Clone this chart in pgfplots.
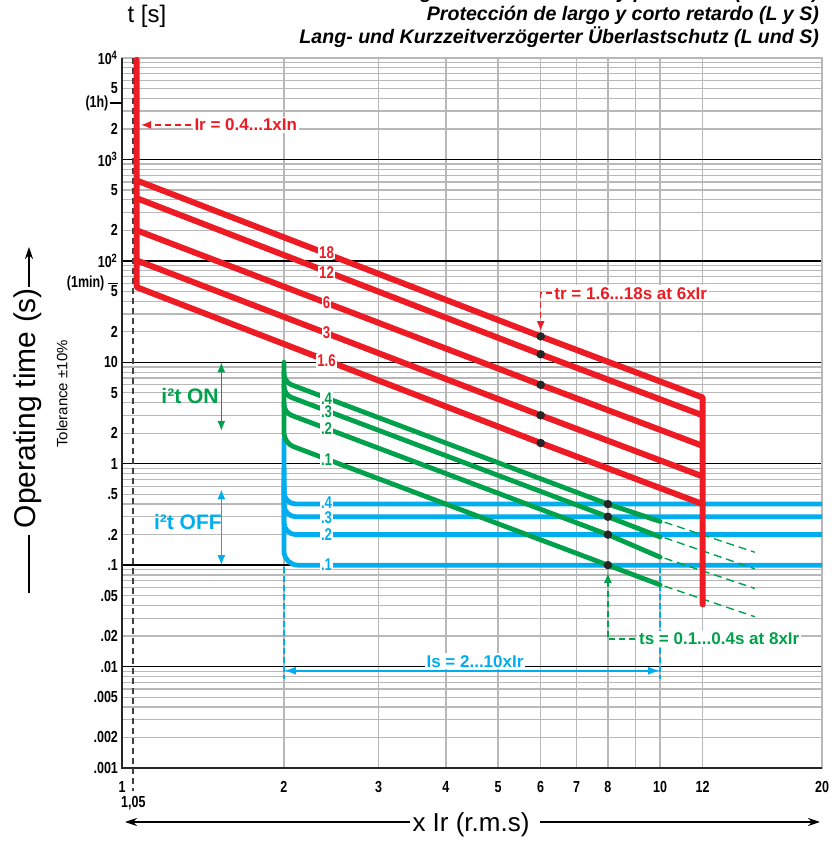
\documentclass[border=0pt]{standalone}
\usepackage{fontspec}
\setmainfont{Liberation Sans}
\newfontfamily\narrowfont[FakeStretch=0.78]{Liberation Sans}
\usepackage{pgfplots}
\pgfplotsset{compat=1.18}
\usetikzlibrary{arrows.meta}

\definecolor{cRed}{HTML}{ED1C24}
\definecolor{cGreen}{HTML}{00A14B}
\definecolor{cBlue}{HTML}{00AEEF}
\definecolor{gridgray}{gray}{0.72}

\newcommand{\tickfont}{\narrowfont\bfseries\fontsize{8}{9}\selectfont}
\newcommand{\annfont}{\bfseries\fontsize{8.5}{10}\selectfont}

\begin{document}
\begin{tikzpicture}
\begin{axis}[
  at={(0pt,0pt)}, anchor=south west,
  scale only axis, width=350pt, height=355pt,
  xmode=log, ymode=log,
  xmin=1, xmax=20, ymin=0.001, ymax=10000,
  clip=false,
  axis line style={gridgray, line width=0.6pt},
  major tick length=0pt, minor tick length=0pt,
  xtick={1,2,3,4,5,6,7,8,9,10,12,20},
  xticklabels={1,2,3,4,5,6,7,8,,10,12,20},
  ytick={0.001,0.01,0.1,1,10,100,1000,10000},
  yticklabels={.001,.01,.1,1,10,10\textsuperscript{2},10\textsuperscript{3},10\textsuperscript{4}},
  minor ytick={0.002,0.003,0.004,0.005,0.006,0.007,0.008,0.009,
               0.02,0.03,0.04,0.05,0.06,0.07,0.08,0.09,
               0.2,0.3,0.4,0.5,0.6,0.7,0.8,0.9,
               2,3,4,5,6,7,8,9,
               20,30,40,50,60,70,80,90,
               200,300,400,500,600,700,800,900,
               2000,3000,4000,5000,6000,7000,8000,9000},
  extra y ticks={0.002,0.005,0.02,0.05,0.2,0.5,2,5,20,50,200,500,2000,5000},
  extra y tick labels={.002,.005,.02,.05,.2,.5,2,5,2,5,2,5,2,5},
  extra y tick style={grid=none},
  xmajorgrids=true, ymajorgrids=true, yminorgrids=true,
  major x grid style={gridgray, line width=0.6pt},
  major y grid style={black, line width=0.7pt},
  minor y grid style={gridgray, line width=0.6pt},
  tick label style={font=\tickfont},
  xticklabel style={yshift=-3pt},
  yticklabel style={xshift=1.5pt},
]

% thick left and bottom border
\draw[black!85, line width=1.1pt] (rel axis cs:0,1) -- (rel axis cs:0,0) -- (rel axis cs:1,0);

% 1,05 guide line
\addplot[black!75, dashed, dash pattern=on 3pt off 2pt, line width=0.9pt] coordinates {(1.05,10000) (1.05,0.0006)};

% short time delay, i2t OFF
\addplot[cBlue, line width=2.4pt, rounded corners=7pt] coordinates {(2,1.8) (2,0.1) (20,0.1)};
\addplot[cBlue, line width=2.4pt, rounded corners=6pt] coordinates {(2,0.6) (2,0.2) (20,0.2)};
\addplot[cBlue, line width=2.4pt, rounded corners=6pt] coordinates {(2,0.7) (2,0.3) (20,0.3)};
\addplot[cBlue, line width=2.4pt, rounded corners=6pt] coordinates {(2,0.9) (2,0.4) (20,0.4)};
\addplot[cBlue, dashed, dash pattern=on 3pt off 1.5pt, line width=0.7pt] coordinates {(2,0.095) (2,0.0076)};
\addplot[cBlue, dashed, dash pattern=on 3pt off 1.5pt, line width=0.7pt] coordinates {(10,0.095) (10,0.0076)};

% short time delay, i2t ON
\addplot[cGreen, line width=2.4pt, line cap=round, rounded corners=5pt] coordinates {(2,10) (2,1.6) (8,0.1) (10,0.064)};
\addplot[cGreen, line width=2.4pt, line cap=round, rounded corners=4pt] coordinates {(2,4.0) (2,3.2) (8,0.2) (10,0.12)};
\addplot[cGreen, line width=2.4pt, line cap=round, rounded corners=4pt] coordinates {(2,6.0) (2,4.8) (8,0.3) (10,0.19)};
\addplot[cGreen, line width=2.4pt, line cap=round, rounded corners=4pt] coordinates {(2,8.0) (2,6.4) (8,0.4) (10,0.27)};
\addplot[cGreen, dashed, dash pattern=on 4pt off 2.5pt, line width=0.7pt] coordinates {(10.2,0.265) (15,0.134)};
\addplot[cGreen, dashed, dash pattern=on 4pt off 2.5pt, line width=0.7pt] coordinates {(10.2,0.186) (15,0.092)};
\addplot[cGreen, dashed, dash pattern=on 4pt off 2.5pt, line width=0.7pt] coordinates {(10.2,0.117) (15,0.059)};
\addplot[cGreen, dashed, dash pattern=on 4pt off 2.5pt, line width=0.7pt] coordinates {(10.2,0.062) (15,0.031)};

% long time delay
\addplot[cRed, line width=3pt, line cap=round, line join=round] coordinates {(1.065,9600) (1.065,55) (6,1.6) (12,0.4) (12,0.041)};
\addplot[cRed, line width=3pt, line join=round] coordinates {(1.065,101) (6,3) (12,0.75)};
\addplot[cRed, line width=3pt, line join=round] coordinates {(1.065,200) (6,6) (12,1.5)};
\addplot[cRed, line width=3pt, line join=round] coordinates {(1.065,415) (6,12) (12,3)};
\addplot[cRed, line width=3pt, line join=round] coordinates {(1.065,620) (6,18) (12,4.5) (12,0.4)};

% setting points
\addplot[only marks, mark=*, mark size=1.9pt, black!85] coordinates {(6,18) (6,12) (6,6) (6,3) (6,1.6) (8,0.4) (8,0.3) (8,0.2) (8,0.1)};

% curve labels
\tikzset{lab/.style={fill=white, inner sep=0.5pt, font=\tickfont\fontsize{8.5}{9}\selectfont}}
\node[lab, text=cRed] at (axis cs:2.4,121) {18};
\node[lab, text=cRed] at (axis cs:2.4,76) {12};
\node[lab, text=cRed] at (axis cs:2.4,39) {6};
\node[lab, text=cRed] at (axis cs:2.4,19.6) {3};
\node[lab, text=cRed] at (axis cs:2.4,10.3) {1.6};
\node[lab, text=cGreen] at (axis cs:2.4,4.4) {.4};
\node[lab, text=cGreen] at (axis cs:2.4,3.25) {.3};
\node[lab, text=cGreen] at (axis cs:2.4,2.2) {.2};
\node[lab, text=cGreen] at (axis cs:2.4,1.1) {.1};
\node[lab, text=cBlue] at (axis cs:2.4,0.41) {.4};
\node[lab, text=cBlue] at (axis cs:2.4,0.295) {.3};
\node[lab, text=cBlue] at (axis cs:2.4,0.2) {.2};
\node[lab, text=cBlue] at (axis cs:2.4,0.1) {.1};

% annotations
\draw[cRed, dashed, dash pattern=on 3pt off 2pt, line width=0.7pt, -{Latex[length=5pt,width=4pt]}] (axis cs:1.345,2190) -- (axis cs:1.085,2190);
\node[anchor=west, fill=white, inner sep=1pt, text=cRed, font=\annfont] at (axis cs:1.35,2190) {Ir = 0.4...1xIn};

\draw[cRed, dashed, dash pattern=on 3pt off 2pt, line width=0.7pt, -{Latex[length=5pt,width=4pt]}] (axis cs:6.3,48) -- (axis cs:6,48) -- (axis cs:6,20.3);
\node[anchor=west, fill=white, inner sep=1pt, text=cRed, font=\annfont] at (axis cs:6.3,48) {tr = 1.6...18s at 6xIr};

\draw[cGreen, dashed, dash pattern=on 3pt off 2pt, line width=0.7pt, -{Latex[length=5pt,width=4pt]}] (axis cs:9.0,0.0187) -- (axis cs:8,0.0187) -- (axis cs:8,0.084);
\node[anchor=west, fill=white, inner sep=1pt, text=cGreen, font=\annfont] at (axis cs:9.05,0.0187) {ts = 0.1...0.4s at 8xIr};

\draw[cBlue, line width=0.8pt, {Latex[length=6pt,width=4pt]}-{Latex[length=6pt,width=4pt]}] (axis cs:2,0.0091) -- (axis cs:10,0.0091);
\node[fill=white, inner sep=1pt, text=cBlue, font=\annfont] at (axis cs:4.53,0.0113) {Is = 2...10xIr};

\draw[cGreen, line width=0.8pt, {Latex[length=5pt,width=4pt]}-{Latex[length=5pt,width=4pt]}] (axis cs:1.53,10) -- (axis cs:1.53,2.1);
\node[text=cGreen, font=\bfseries\fontsize{10.5}{12}\selectfont] at (axis cs:1.338,4.63) {i²t ON};
\draw[cBlue, line width=0.8pt, {Latex[length=5pt,width=4pt]}-{Latex[length=5pt,width=4pt]}] (axis cs:1.53,0.56) -- (axis cs:1.53,0.1);
\node[text=cBlue, font=\bfseries\fontsize{10.5}{12}\selectfont] at (axis cs:1.326,0.265) {i²t OFF};

% special y marks
\draw[line width=0.6pt] (axis cs:1,3600) -- ([xshift=-6pt]axis cs:1,3600) node[anchor=east, inner sep=0.5pt, font=\tickfont] {(1h)};
\draw[line width=0.6pt] ([xshift=-2pt]axis cs:1,60) -- ([xshift=-7pt]axis cs:1,60) node[anchor=east, inner sep=1.5pt, font=\tickfont] {(1min)};
\node[font=\tickfont] at ([yshift=-17.5pt]axis cs:1.05,0.001) {1,05};
\end{axis}

% texts around the axis
\node[font=\fontsize{12}{14}\selectfont] at (12.5pt,376pt) {t [s]};
\node[anchor=east, font=\bfseries\itshape\fontsize{9.8}{11}\selectfont] at (352pt,387.5pt) {Long and short time delay protection (L and S)};
\node[anchor=east, font=\bfseries\itshape\fontsize{9.8}{11}\selectfont] at (352pt,376.5pt) {Protección de largo y corto retardo (L y S)};
\node[anchor=east, font=\bfseries\itshape\fontsize{9.8}{11}\selectfont] at (352pt,365.5pt) {Lang- und Kurzzeitverzögerter Überlastschutz (L und S)};

\node[rotate=90, font=\fontsize{15}{17}\selectfont] at (-47pt,180pt) {Operating time (s)};
\draw[line width=0.6pt] (-46.5pt,87.5pt) -- (-46.5pt,116.5pt);
\draw[line width=0.6pt, -{Stealth[length=6pt,width=4pt]}] (-46.5pt,240.5pt) -- (-46.5pt,260.5pt);
\node[rotate=90, font=\fontsize{7.5}{9}\selectfont] at (-30pt,187pt) {Tolerance ±10\%};

\node[font=\fontsize{13}{15}\selectfont] at (174.5pt,-28.5pt) {x Ir (r.m.s)};
\draw[line width=0.6pt, -{Stealth[length=6pt,width=4pt]}] (144pt,-27pt) -- (1.5pt,-27pt);
\draw[line width=0.6pt, -{Stealth[length=6pt,width=4pt]}] (209pt,-27pt) -- (349pt,-27pt);

\pgfresetboundingbox
\path[use as bounding box] (-61pt,-37.5pt) rectangle (355pt,384pt);
\end{tikzpicture}
\end{document}
